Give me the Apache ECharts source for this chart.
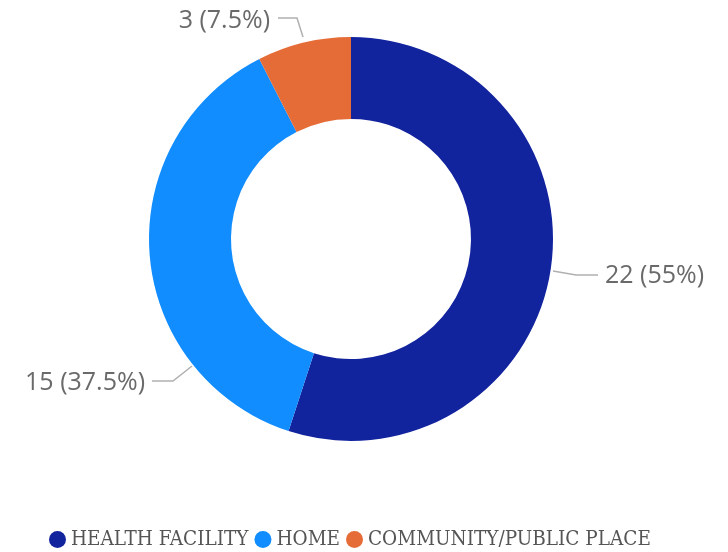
<!DOCTYPE html>
<html>
<head>
<meta charset="utf-8">
<script src="https://cdn.jsdelivr.net/npm/echarts@6/dist/echarts.min.js"></script>
<style>
  html, body { margin: 0; padding: 0; background: #fff; }
  #chart { width: 728px; height: 552px; }
</style>
</head>
<body>
<div id="chart"></div>
<script>
var categories = ['HEALTH FACILITY', 'HOME', 'COMMUNITY/PUBLIC PLACE'];
var counts = [22, 15, 3];
var colors = ['#12239E', '#118DFF', '#E66C37'];

var total = counts.reduce(function (a, b) { return a + b; }, 0);
var pieData = [];
for (var i = 0; i < categories.length; i++) {
    pieData.push({ name: categories[i], value: counts[i], itemStyle: { color: colors[i] } });
}

// where each label sits (text anchor + leader line), tuned to the reference
var labelSpots = [
    { x: 605, y: 276, align: 'left', line: [[553, 271], [576, 275], [598, 275]] },
    { x: 145, y: 383, align: 'right', line: [[192, 366], [173, 381], [152, 381]] },
    { x: 270, y: 21, align: 'right', line: [[303, 37], [297, 18], [278, 18]] }
];

var myChart = echarts.init(document.getElementById('chart'));
var option = {
    animation: false,
    legend: {
        top: 524,
        left: 44,
        icon: 'circle',
        itemWidth: 17,
        itemHeight: 17,
        itemGap: 6,
        textStyle: {
            fontFamily: 'DejaVu Serif Condensed',
            fontSize: 20.5,
            color: '#555'
        },
        data: categories
    },
    series: [
        {
            type: 'pie',
            center: [351, 239],
            radius: [120, 202],
            startAngle: 90,
            clockwise: true,
            data: pieData,
            label: {
                formatter: function (p) {
                    return p.value + ' (' + Math.round(p.value / total * 1000) / 10 + '%)';
                },
                fontFamily: 'Open Sans',
                fontSize: 25,
                color: '#6a6a6a',
                overflow: 'none'
            },
            labelLine: {
                length: 12,
                length2: 22,
                lineStyle: { color: '#b0b0b0', width: 1.5 }
            },
            labelLayout: function (params) {
                var s = labelSpots[params.dataIndex];
                return {
                    x: s.x,
                    y: s.y,
                    align: s.align,
                    verticalAlign: 'middle',
                    labelLinePoints: s.line
                };
            }
        }
    ]
};
myChart.setOption(option);
</script>
</body>
</html>
